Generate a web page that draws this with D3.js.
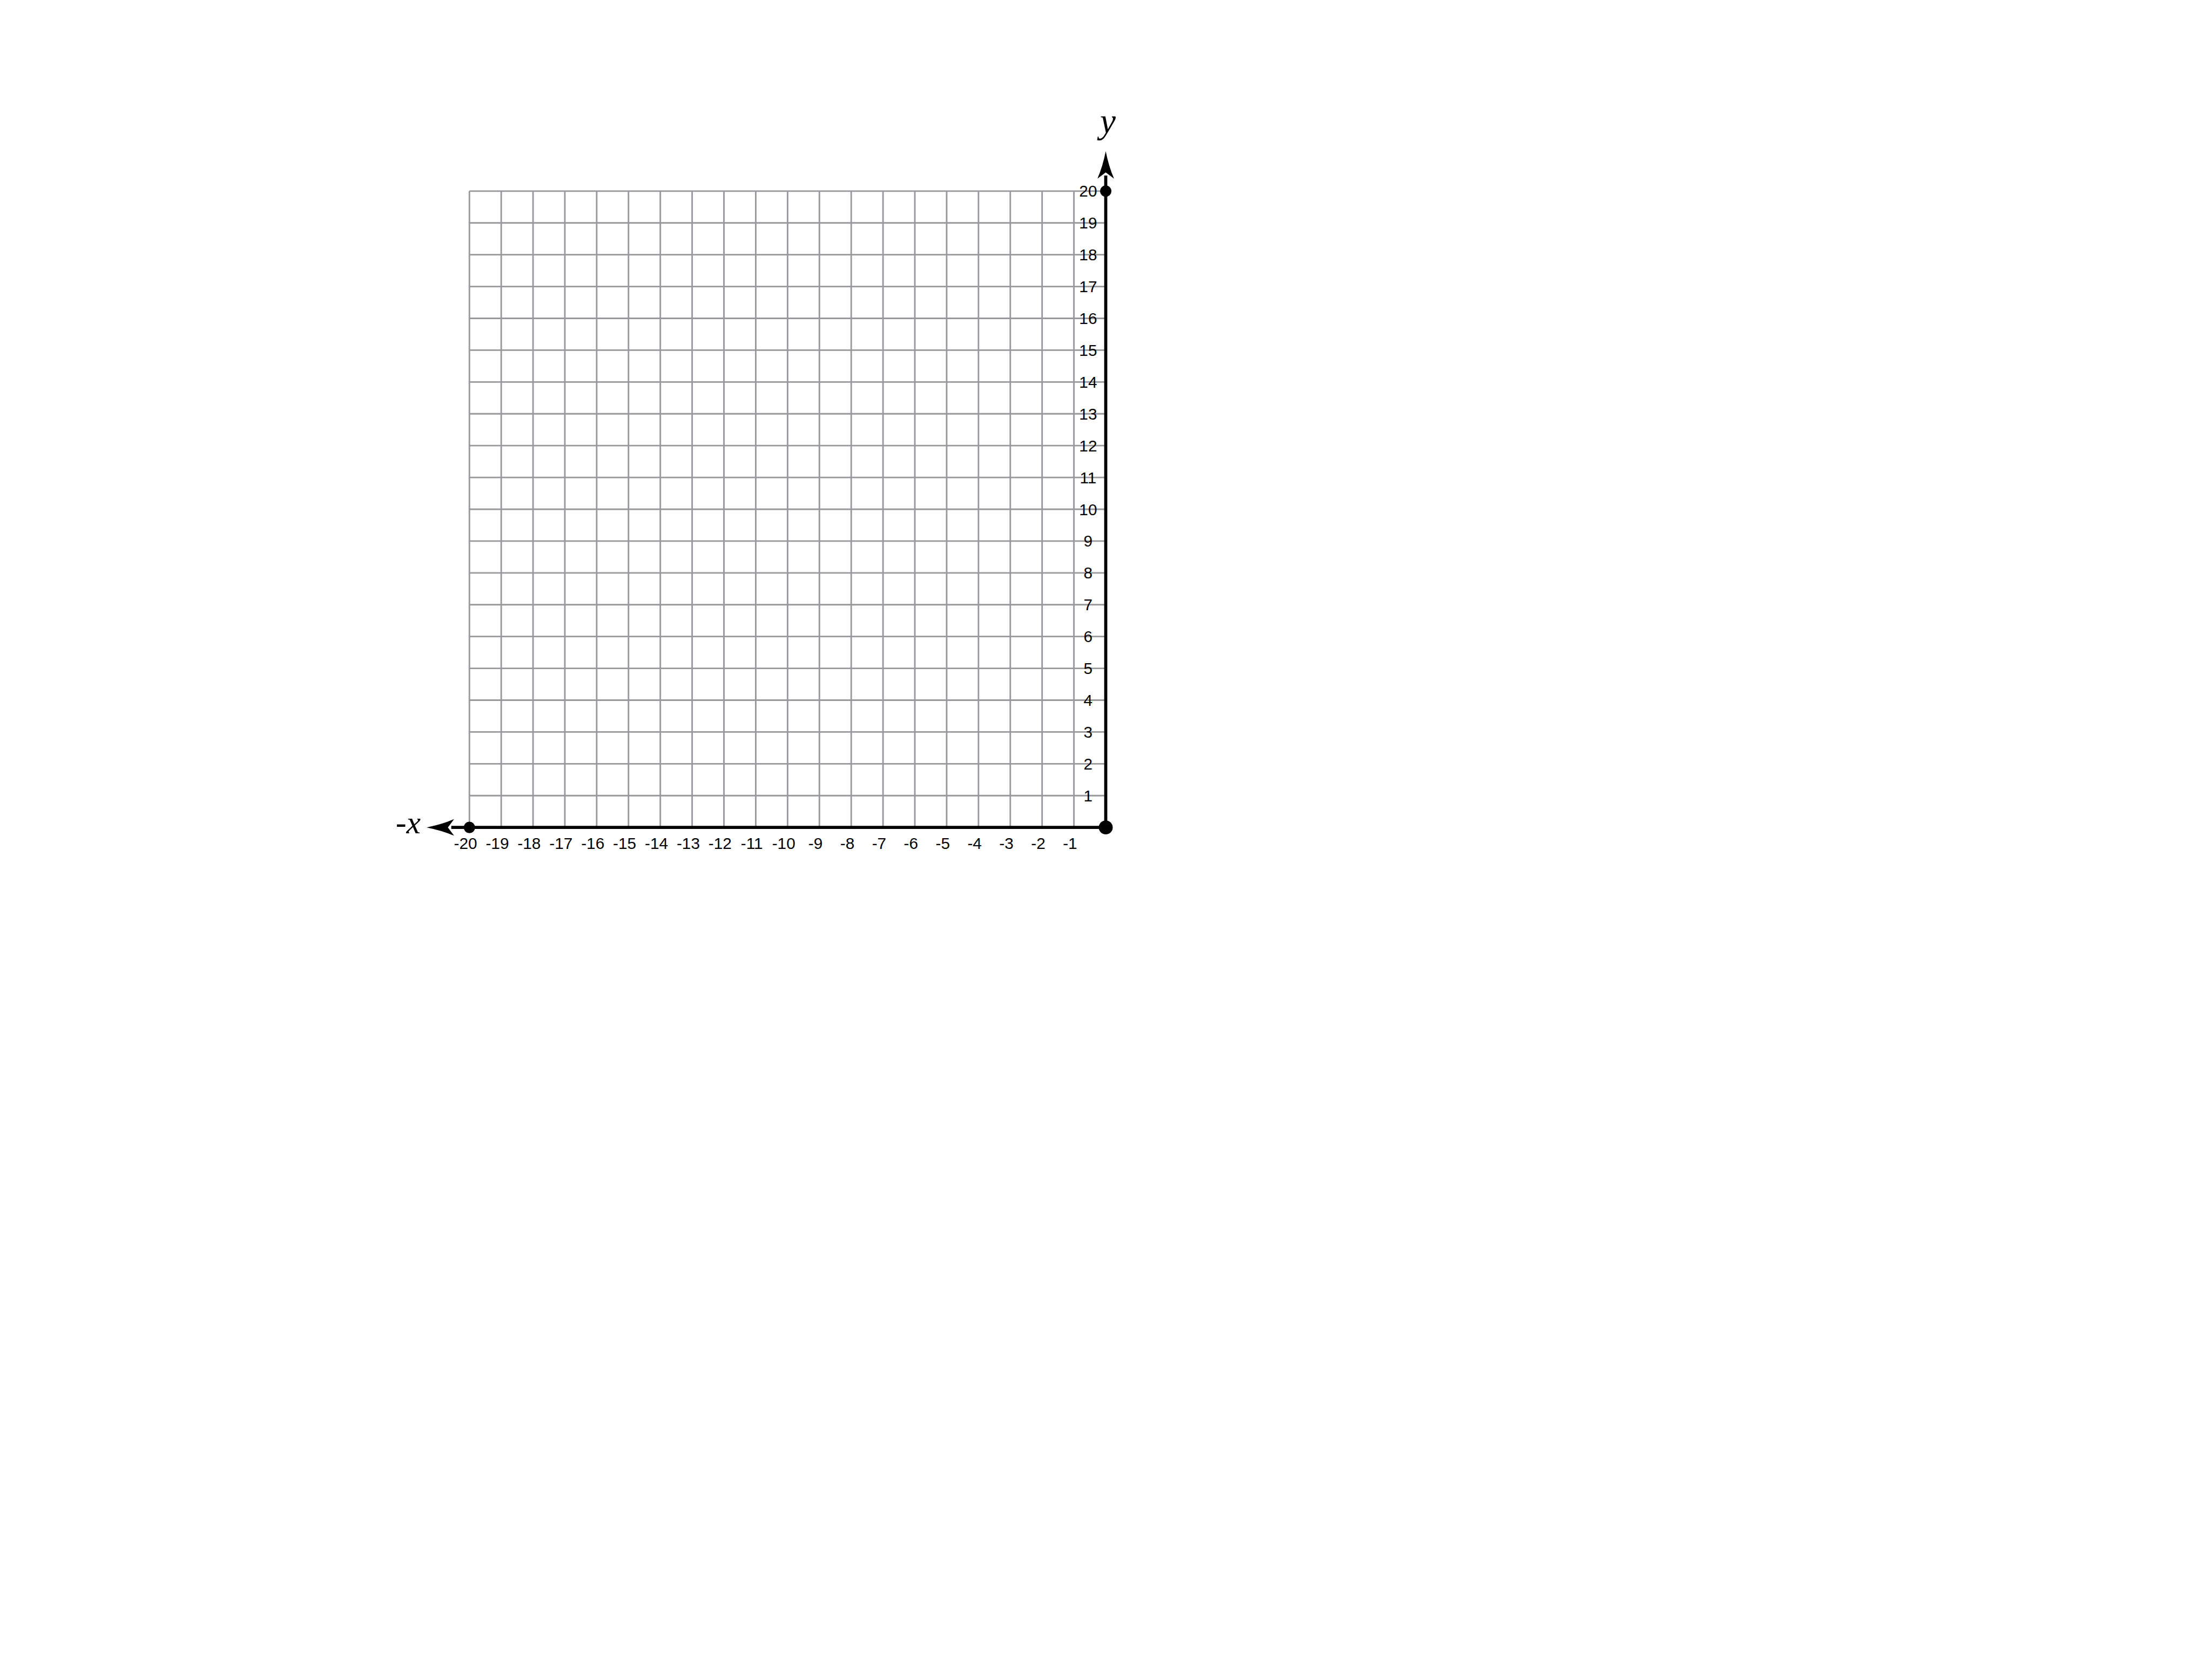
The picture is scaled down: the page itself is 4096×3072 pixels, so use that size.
<!DOCTYPE html>
<html>
<head>
<meta charset="utf-8">
<script src="https://cdn.jsdelivr.net/npm/d3@7"></script>
<style>
  html, body { margin: 0; padding: 0; background: #fff; }
  svg { display: block; }
</style>
</head>
<body>
<script>
// ---- data ----
const xTicks = [-20, -19, -18, -17, -16, -15, -14, -13, -12, -11, -10, -9, -8, -7, -6, -5, -4, -3, -2, -1];
const yTicks = [1, 2, 3, 4, 5, 6, 7, 8, 9, 10, 11, 12, 13, 14, 15, 16, 17, 18, 19, 20];
const xGrid = [-20, -19, -18, -17, -16, -15, -14, -13, -12, -11, -10, -9, -8, -7, -6, -5, -4, -3, -2, -1, 0];
const yGrid = [0, 1, 2, 3, 4, 5, 6, 7, 8, 9, 10, 11, 12, 13, 14, 15, 16, 17, 18, 19, 20];
const xDomain = [-20, 0];
const yDomain = [0, 20];
const points = [[-20, 0], [0, 20]];
const origin = [[0, 0]];
const xAxisLabel = "-x";
const yAxisLabel = "y";

// ---- layout (reference pixel space, scaled by viewBox) ----
const W = 4267, H = 3200;
const svg = d3.select("body").append("svg")
  .attr("width", 4096).attr("height", 3072)
  .attr("viewBox", `0 0 ${W} ${H}`);

const x = d3.scaleLinear().domain(xDomain).range([905.5, 2133]);
const y = d3.scaleLinear().domain(yDomain).range([1596, 368.5]);

const gridColor = "#98989d";
const g = svg.append("g");

// grid
g.append("g").selectAll("line.v").data(xGrid).join("line")
  .attr("x1", d => x(d)).attr("x2", d => x(d))
  .attr("y1", y(0)).attr("y2", y(20))
  .attr("stroke", gridColor).attr("stroke-width", 3);
g.append("g").selectAll("line.h").data(yGrid).join("line")
  .attr("x1", x(-20)).attr("x2", x(0))
  .attr("y1", d => y(d)).attr("y2", d => y(d))
  .attr("stroke", gridColor).attr("stroke-width", 3);

// tick labels via axes
const fontFam = "'Liberation Sans', Arial, Helvetica, sans-serif";
const xAxis = d3.axisBottom(x).tickValues(xTicks).tickSize(0).tickPadding(0).tickFormat(d => String(d));
const xa = g.append("g").attr("transform", `translate(0,${y(0)})`).call(xAxis);
xa.select(".domain").remove();
xa.selectAll("text")
  .attr("dy", null).attr("y", 41.5).attr("dx", -8)
  .attr("font-family", fontFam).attr("font-size", 31).attr("fill", "#000");

const yAxis = d3.axisLeft(y).tickValues(yTicks).tickSize(0).tickPadding(0).tickFormat(d => String(d));
const ya = g.append("g").attr("transform", `translate(${x(0) - 34},0)`).call(yAxis);
ya.select(".domain").remove();
ya.selectAll("text")
  .attr("text-anchor", "middle").attr("x", 0).attr("dy", null).attr("y", 10.5)
  .attr("font-family", fontFam).attr("font-size", 31).attr("fill", "#000");

// axes lines
const axisW = 6;
g.append("line")
  .attr("x1", x(-20) - 35).attr("x2", x(0))
  .attr("y1", y(0)).attr("y2", y(0))
  .attr("stroke", "#000").attr("stroke-width", axisW);
g.append("line")
  .attr("x1", x(0)).attr("x2", x(0))
  .attr("y1", y(0)).attr("y2", y(20) - 30)
  .attr("stroke", "#000").attr("stroke-width", axisW);

// arrowheads (stealth style)
function leftArrow(tx, ty) {
  const L = 53, hw = 16, notch = 12;
  return `M${tx},${ty} Q${tx + 30},${ty - 6} ${tx + L},${ty - hw} L${tx + L - notch},${ty} L${tx + L},${ty + hw} Q${tx + 30},${ty + 6} ${tx},${ty} Z`;
}
function upArrow(tx, ty) {
  const L = 53, hw = 16, notch = 12;
  return `M${tx},${ty} Q${tx - 6},${ty + 30} ${tx - hw},${ty + L} L${tx},${ty + L - notch} L${tx + hw},${ty + L} Q${tx + 6},${ty + 30} ${tx},${ty} Z`;
}
g.append("path").attr("d", leftArrow(x(-20) - 82.5, y(0))).attr("fill", "#000");
g.append("path").attr("d", upArrow(x(0), y(20) - 77)).attr("fill", "#000");

// points
g.append("g").selectAll("circle").data(points).join("circle")
  .attr("cx", d => x(d[0])).attr("cy", d => y(d[1])).attr("r", 11).attr("fill", "#000");
g.append("g").selectAll("circle").data(origin).join("circle")
  .attr("cx", d => x(d[0])).attr("cy", d => y(d[1])).attr("r", 13.5).attr("fill", "#000");

// axis labels
const serif = "'Liberation Serif', 'DejaVu Serif', serif";
g.append("text").text(xAxisLabel)
  .attr("x", x(-20) - 94).attr("y", y(0) + 11)
  .attr("text-anchor", "end")
  .attr("font-family", serif).attr("font-style", "italic").attr("font-size", 62).attr("fill", "#000");
g.append("text").text(yAxisLabel)
  .attr("x", x(0) + 4).attr("y", y(20) - 112)
  .attr("text-anchor", "middle")
  .attr("font-family", serif).attr("font-style", "italic").attr("font-size", 68).attr("fill", "#000");
</script>
</body>
</html>
